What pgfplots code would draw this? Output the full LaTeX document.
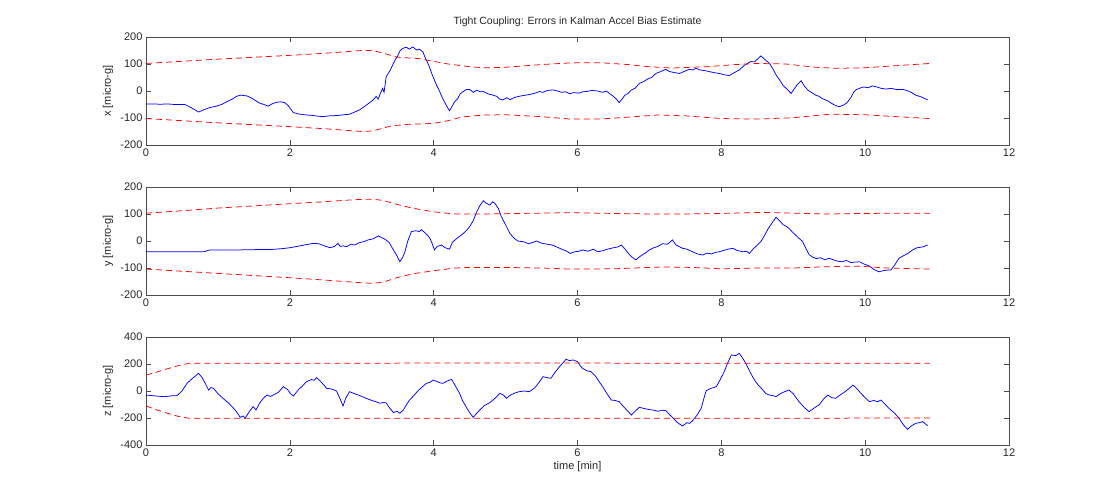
\documentclass[border=0pt]{standalone}
\usepackage{fontspec}
\setmainfont{Liberation Sans}
\usepackage{pgfplots}
\pgfplotsset{compat=1.18}
\pgfplotsset{
  sub/.style={
    anchor=south west, scale only axis, width=863pt, height=108pt,
    xmin=0, xmax=12, xtick={0,2,4,6,8,10,12},
    tick align=inside, major tick length=5pt,
    axis line style={black!70, line width=0.6pt},
    every tick/.style={black!70, line width=0.6pt},
    tick label style={font=\fontsize{11}{12}\selectfont, text=black!85},
    label style={font=\fontsize{11}{12}\selectfont, text=black!85},
    /pgf/number format/assume math mode=true,
    ylabel style={at={(axis description cs:-0.044,0.5)}, anchor=center},
    clip=false,
  },
  bl/.style={blue, line width=0.75pt},
  rd/.style={red, line width=0.75pt, dash pattern=on 6pt off 4pt},
}
\begin{document}
\begin{tikzpicture}[x=1pt,y=1pt]
\path[use as bounding box] (0,0) rectangle (1115,500);
% ---------------- x ----------------
\begin{axis}[sub, at={(146pt,355pt)},
  ymin=-200, ymax=200, ytick={-200,-100,0,100,200},
  ylabel={x [micro-g]},
  title={Tight Coupling: Errors in Kalman Accel Bias Estimate},
  title style={at={(axis description cs:0.5,1)}, anchor=center, yshift=9pt, font=\fontsize{10.5}{12}\selectfont, text=black!85}]
\addplot[bl] coordinates {
(0,-48)(0.1,-48)(0.2,-49)(0.3,-48)(0.4,-50)(0.54,-50)(0.6,-58)(0.67,-68)(0.73,-78)(0.8,-70)(0.88,-62)(0.98,-56)(1.05,-50)(1.12,-40)(1.2,-30)(1.26,-20)(1.31,-15)(1.36,-17)(1.40,-18)(1.46,-25)(1.52,-35)(1.58,-45)(1.64,-50)(1.70,-56)(1.75,-48)(1.81,-42)(1.87,-40)(1.93,-43)(1.98,-55)(2.02,-70)(2.05,-80)(2.12,-85)(2.23,-89)(2.3,-90)(2.38,-93)(2.46,-95)(2.55,-92)(2.65,-91)(2.75,-88)(2.83,-86)(2.9,-78)(2.97,-70)(3.05,-55)(3.1,-45)(3.16,-33)(3.2,-20)(3.23,-30)(3.25,-15)(3.29,10)(3.31,-5)(3.34,53)(3.38,70)(3.41,85)(3.44,102)(3.47,118)(3.5,130)(3.53,148)(3.57,158)(3.62,162)(3.66,155)(3.71,163)(3.76,152)(3.8,155)(3.85,145)(3.88,125)(3.94,90)(3.98,60)(4.04,22)(4.08,0)(4.12,-25)(4.15,-40)(4.19,-60)(4.22,-73)(4.25,-60)(4.29,-40)(4.33,-30)(4.37,-10)(4.41,-2)(4.45,5)(4.5,6)(4.55,-5)(4.6,3)(4.65,-3)(4.69,-2)(4.75,-10)(4.82,-15)(4.88,-20)(4.92,-30)(4.96,-33)(5.02,-25)(5.06,-32)(5.10,-27)(5.15,-22)(5.22,-18)(5.29,-15)(5.35,-12)(5.41,-8)(5.47,-2)(5.52,-5)(5.58,2)(5.66,4)(5.72,0)(5.78,-5)(5.84,-3)(5.89,-10)(5.95,-6)(6.02,-8)(6.07,-3)(6.12,-2)(6.2,2)(6.28,0)(6.35,-5)(6.40,0)(6.45,-10)(6.5,-20)(6.54,-30)(6.58,-43)(6.62,-30)(6.66,-15)(6.70,-10)(6.75,4)(6.8,10)(6.86,28)(6.92,35)(6.98,45)(7.03,50)(7.09,65)(7.14,70)(7.18,75)(7.23,80)(7.28,72)(7.35,68)(7.42,65)(7.48,72)(7.55,80)(7.6,78)(7.65,84)(7.7,78)(7.78,75)(7.83,72)(7.9,68)(7.97,65)(8.04,60)(8.11,57)(8.18,68)(8.25,78)(8.32,95)(8.41,109)(8.46,108)(8.51,120)(8.55,130)(8.6,118)(8.67,102)(8.72,80)(8.76,60)(8.81,41)(8.86,20)(8.92,5)(8.97,-9)(9.02,10)(9.06,25)(9.11,38)(9.15,20)(9.20,4)(9.25,-5)(9.31,-15)(9.36,-20)(9.4,-28)(9.45,-33)(9.5,-40)(9.56,-50)(9.6,-55)(9.64,-58)(9.7,-52)(9.75,-43)(9.8,-25)(9.84,-5)(9.87,4)(9.92,10)(9.98,15)(10.04,12)(10.1,19)(10.16,15)(10.22,10)(10.29,7)(10.36,10)(10.44,5)(10.52,6)(10.58,2)(10.64,-5)(10.7,-15)(10.78,-22)(10.87,-33)
};
\addplot[rd] coordinates {
(0,102)(0.5,110)(1,118)(1.5,125)(2,132)(2.5,140)(2.8,146)(3.0,150)(3.15,150)(3.3,140)(3.5,125)(3.8,120)(4.0,110)(4.2,100)(4.5,90)(4.7,86)(5.0,88)(5.5,98)(5.9,104)(6.3,105)(6.7,98)(7.0,90)(7.3,85)(7.8,90)(8.2,98)(8.5,102)(8.9,100)(9.3,88)(9.6,84)(10.0,86)(10.5,95)(10.9,102)
};
\addplot[rd] coordinates {
(0,-102)(0.5,-110)(1,-118)(1.5,-125)(2,-132)(2.5,-140)(3.0,-150)(3.15,-148)(3.4,-130)(3.6,-124)(4.0,-120)(4.2,-110)(4.4,-96)(4.7,-89)(5.0,-88)(5.5,-95)(5.9,-104)(6.3,-104)(6.7,-97)(7.1,-89)(7.5,-92)(8.0,-102)(8.5,-104)(9.0,-99)(9.5,-86)(10.0,-88)(10.5,-96)(10.9,-102)
};
\end{axis}
% ---------------- y ----------------
\begin{axis}[sub, at={(146pt,205pt)},
  ymin=-200, ymax=200, ytick={-200,-100,0,100,200},
  ylabel={y [micro-g]}]
\addplot[bl] coordinates {
(0,-40)(0.4,-40)(0.8,-40)(0.85,-36)(0.89,-33)(1.1,-33)(1.31,-33)(1.5,-32)(1.77,-31)(1.9,-28)(2.0,-25)(2.1,-20)(2.2,-15)(2.32,-9)(2.4,-10)(2.48,-18)(2.56,-25)(2.62,-20)(2.67,-9)(2.7,-20)(2.74,-18)(2.79,-21)(2.85,-12)(2.9,-15)(2.97,-6)(3.03,-2)(3.1,5)(3.16,8)(3.23,19)(3.28,12)(3.32,7)(3.38,-5)(3.44,-33)(3.49,-55)(3.53,-77)(3.57,-60)(3.60,-40)(3.64,0)(3.69,35)(3.75,38)(3.8,35)(3.83,42)(3.88,30)(3.92,20)(3.95,9)(3.98,-10)(4.01,-33)(4.05,-20)(4.11,-15)(4.16,-25)(4.22,-30)(4.26,-5)(4.32,9)(4.4,25)(4.46,40)(4.50,53)(4.55,75)(4.59,103)(4.64,130)(4.69,149)(4.73,140)(4.78,133)(4.82,145)(4.85,140)(4.9,120)(4.94,91)(5.0,60)(5.06,28)(5.12,10)(5.17,0)(5.25,-3)(5.32,-10)(5.38,-5)(5.43,0)(5.5,-8)(5.58,-12)(5.65,-15)(5.7,-21)(5.78,-30)(5.85,-38)(5.9,-46)(5.96,-40)(6.02,-38)(6.07,-33)(6.15,-38)(6.22,-30)(6.28,-40)(6.35,-36)(6.42,-30)(6.5,-25)(6.56,-22)(6.61,-15)(6.66,-30)(6.72,-50)(6.76,-60)(6.81,-70)(6.88,-55)(6.94,-45)(7.0,-33)(7.06,-25)(7.12,-20)(7.18,-10)(7.25,-12)(7.32,4)(7.37,-15)(7.41,-20)(7.46,-27)(7.52,-30)(7.6,-40)(7.67,-48)(7.74,-52)(7.8,-45)(7.86,-48)(7.92,-42)(7.97,-40)(8.03,-35)(8.1,-30)(8.16,-27)(8.22,-35)(8.3,-40)(8.35,-38)(8.39,-46)(8.44,-30)(8.5,-15)(8.55,-2)(8.6,20)(8.65,45)(8.7,65)(8.76,88)(8.81,75)(8.86,60)(8.9,55)(8.94,47)(9.0,30)(9.06,15)(9.13,-2)(9.18,-30)(9.22,-50)(9.27,-60)(9.32,-65)(9.38,-62)(9.44,-70)(9.5,-64)(9.56,-70)(9.62,-75)(9.68,-77)(9.74,-72)(9.8,-80)(9.86,-78)(9.92,-77)(9.98,-85)(10.06,-93)(10.12,-105)(10.19,-114)(10.25,-110)(10.3,-108)(10.36,-107)(10.42,-85)(10.47,-64)(10.53,-55)(10.6,-45)(10.66,-33)(10.72,-25)(10.8,-22)(10.87,-15)
};
\addplot[rd] coordinates {
(0,103)(0.5,112)(1,122)(1.5,130)(2,138)(2.5,146)(2.9,153)(3.15,155)(3.3,150)(3.5,135)(3.7,122)(4.0,108)(4.3,100)(4.7,100)(5.2,102)(5.9,105)(6.5,102)(7.0,100)(7.5,100)(8.0,102)(8.6,106)(9.0,103)(9.5,100)(10.0,102)(10.5,103)(10.9,103)
};
\addplot[rd] coordinates {
(0,-104)(0.5,-112)(1,-120)(1.5,-128)(2,-136)(2.5,-145)(2.9,-153)(3.15,-157)(3.3,-152)(3.5,-135)(3.7,-122)(4.0,-110)(4.3,-100)(4.5,-98)(5.0,-98)(5.5,-100)(5.9,-104)(6.5,-103)(7.2,-96)(7.6,-98)(8.0,-103)(8.5,-100)(9.0,-100)(9.5,-95)(9.9,-93)(10.3,-100)(10.9,-104)
};
\end{axis}
% ---------------- z ----------------
\begin{axis}[sub, at={(146pt,55pt)},
  ymin=-400, ymax=400, ytick={-400,-200,0,200,400},
  ylabel={z [micro-g]},
  xlabel={time [min]},
  xlabel style={at={(axis description cs:0.5,0)}, anchor=center, yshift=-22pt}]
\addplot[bl] coordinates {
(0,-30)(0.1,-35)(0.2,-40)(0.26,-42)(0.35,-36)(0.43,-35)(0.5,0)(0.57,57)(0.65,95)(0.73,131)(0.78,100)(0.83,50)(0.87,7)(0.9,25)(0.94,20)(1.0,-20)(1.07,-54)(1.15,-90)(1.24,-141)(1.28,-170)(1.31,-195)(1.35,-185)(1.38,-200)(1.44,-150)(1.49,-116)(1.53,-140)(1.58,-90)(1.63,-55)(1.68,-30)(1.73,-40)(1.77,-30)(1.84,-10)(1.91,32)(1.97,10)(2.01,-20)(2.05,-37)(2.12,10)(2.18,40)(2.23,69)(2.3,85)(2.34,80)(2.37,99)(2.43,70)(2.48,40)(2.51,20)(2.58,15)(2.65,0)(2.7,-60)(2.74,-111)(2.78,-50)(2.83,-5)(2.9,-20)(2.98,-35)(3.06,-54)(3.14,-70)(3.2,-80)(3.25,-91)(3.3,-85)(3.34,-88)(3.38,-120)(3.44,-160)(3.49,-150)(3.53,-165)(3.58,-140)(3.62,-103)(3.66,-70)(3.71,-42)(3.78,0)(3.84,30)(3.9,57)(3.95,65)(3.99,81)(4.05,70)(4.09,60)(4.13,57)(4.19,75)(4.25,86)(4.3,40)(4.36,-17)(4.4,-70)(4.45,-116)(4.5,-160)(4.55,-195)(4.59,-170)(4.64,-141)(4.7,-110)(4.78,-86)(4.84,-60)(4.88,-40)(4.92,-17)(4.97,-30)(5.01,-54)(5.07,-30)(5.13,-15)(5.19,-5)(5.26,0)(5.33,-5)(5.4,20)(5.46,60)(5.52,106)(5.57,100)(5.63,94)(5.69,140)(5.75,180)(5.8,210)(5.84,235)(5.89,225)(5.94,230)(6.0,218)(6.04,185)(6.07,168)(6.13,150)(6.19,143)(6.25,110)(6.3,70)(6.35,32)(6.41,-20)(6.47,-67)(6.52,-70)(6.58,-79)(6.63,-110)(6.7,-150)(6.75,-178)(6.8,-150)(6.86,-121)(6.93,-130)(7.0,-138)(7.05,-141)(7.12,-150)(7.18,-142)(7.23,-146)(7.28,-175)(7.32,-195)(7.38,-230)(7.42,-245)(7.46,-259)(7.52,-235)(7.56,-240)(7.6,-220)(7.66,-180)(7.72,-128)(7.76,-50)(7.79,3)(7.86,20)(7.93,32)(7.98,80)(8.04,143)(8.09,210)(8.14,267)(8.2,262)(8.25,279)(8.3,240)(8.34,205)(8.4,140)(8.46,81)(8.52,40)(8.57,12)(8.62,-20)(8.67,-30)(8.72,-35)(8.76,-42)(8.82,-20)(8.88,-5)(8.94,7)(9.0,-20)(9.04,-50)(9.08,-79)(9.15,-120)(9.22,-153)(9.28,-130)(9.32,-115)(9.36,-103)(9.42,-60)(9.48,-30)(9.54,-50)(9.59,-54)(9.65,-30)(9.72,-5)(9.78,20)(9.83,44)(9.88,20)(9.94,-17)(10.0,-50)(10.06,-79)(10.12,-70)(10.17,-80)(10.22,-67)(10.28,-100)(10.33,-128)(10.4,-160)(10.47,-200)(10.53,-250)(10.59,-284)(10.64,-260)(10.7,-240)(10.75,-235)(10.8,-227)(10.84,-245)(10.87,-257)
};
\addplot[rd] coordinates {
(0,118)(0.15,140)(0.3,165)(0.45,188)(0.6,205)(1.5,206)(3,206)(5,208)(7,206)(9,206)(10.9,206)
};
\addplot[rd] coordinates {
(0,-111)(0.15,-140)(0.3,-165)(0.45,-188)(0.6,-202)(3,-202)(6,-202)(9,-202)(10.4,-200)(10.9,-200)
};
\end{axis}
\end{tikzpicture}
\end{document}
